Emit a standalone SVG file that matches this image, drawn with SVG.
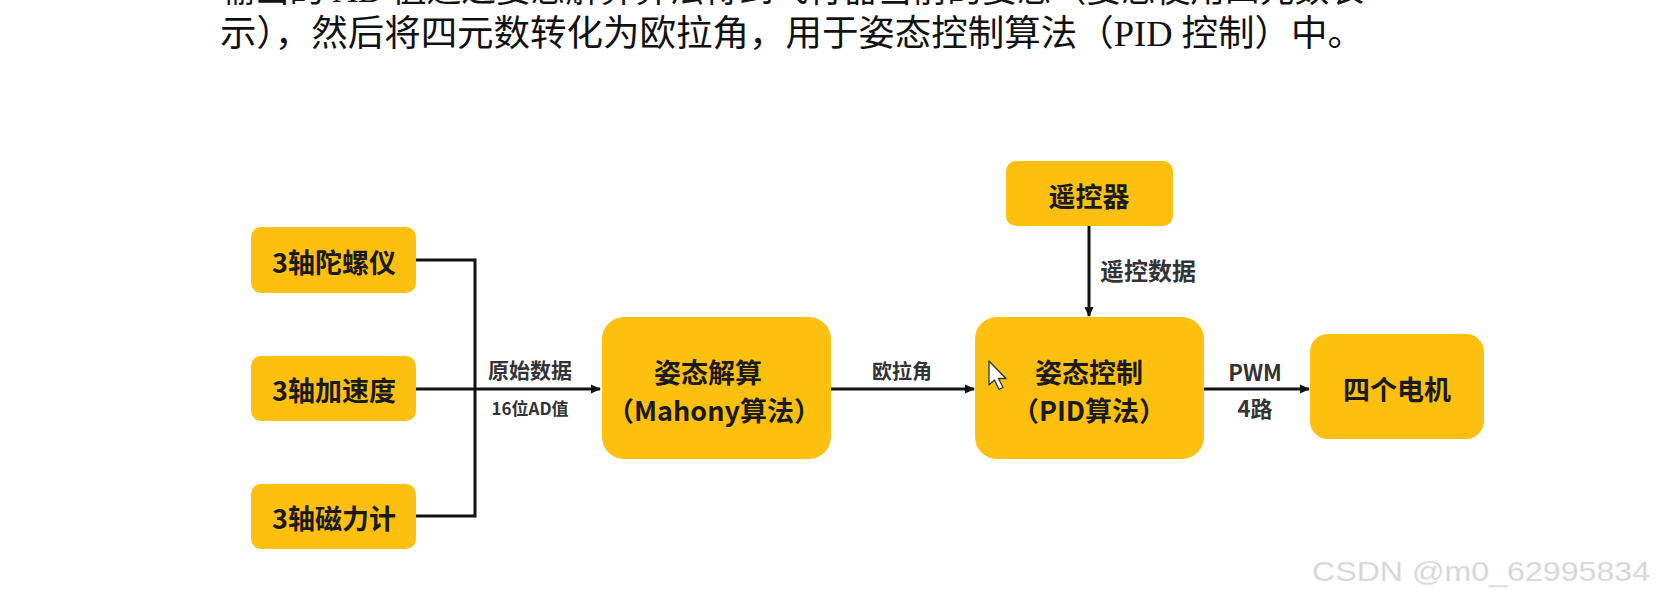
<svg xmlns="http://www.w3.org/2000/svg" width="1658" height="600" viewBox="0 0 1658 600">
  <defs>
    <marker id="arr" markerWidth="10" markerHeight="10" refX="9" refY="5" orient="auto" markerUnits="userSpaceOnUse">
      <path d="M0,0.5 L10,5 L0,9.5 Z" fill="#111"/>
    </marker>
    <style>
      .box { fill: #FEC00F; }
      .bt { font-family: "Noto Sans CJK SC", "Noto Sans", sans-serif; font-weight: bold; font-size: 27px; fill: #1a1a1a; text-anchor: middle; dominant-baseline: central; }
      .lb { font-family: "Noto Sans CJK SC", "Noto Sans", sans-serif; font-weight: bold; fill: #333; dominant-baseline: central; }
      .ln { stroke: #111; stroke-width: 3; fill: none; }
      .para { font-family: "Liberation Serif", "Noto Sans CJK SC", serif; font-size: 36px; fill: #111; }
      .wm { font-family: "Liberation Sans", Arial, sans-serif; font-size: 28px; fill: #d4d4d4; }
    </style>
  </defs>
  <rect width="1658" height="600" fill="#ffffff"/>

  <!-- paragraph text -->
  <text class="para" x="220" y="2" textLength="1144" lengthAdjust="spacingAndGlyphs">输出的 AD 值通过姿态解算算法得到飞行器当前的姿态（姿态使用四元数表</text>
  <text class="para" x="220" y="46" textLength="1144" lengthAdjust="spacingAndGlyphs">示），然后将四元数转化为欧拉角，用于姿态控制算法（PID 控制）中。</text>

  <!-- connectors -->
  <g id="connectors">
    <polyline class="ln" points="416,260 475,260 475,516 416,516"/>
    <line class="ln" x1="416" y1="389" x2="600" y2="389" marker-end="url(#arr)"/>
    <line class="ln" x1="831" y1="389" x2="974" y2="389" marker-end="url(#arr)"/>
    <line class="ln" x1="1089" y1="226" x2="1089" y2="316" marker-end="url(#arr)"/>
    <line class="ln" x1="1204" y1="389" x2="1309" y2="389" marker-end="url(#arr)"/>
    <text class="lb" x="530" y="369" font-size="21" text-anchor="middle" font-weight="500">原始数据</text>
    <text class="lb" x="530" y="407" font-size="17" text-anchor="middle">16位AD值</text>
    <text class="lb" x="902" y="370" font-size="20" text-anchor="middle" font-weight="500">欧拉角</text>
    <text class="lb" x="1100" y="269" font-size="24" font-weight="500">遥控数据</text>
    <text class="lb" x="1255" y="371" font-size="22" text-anchor="middle">PWM</text>
    <text class="lb" x="1255" y="407" font-size="22" text-anchor="middle">4路</text>
  </g>

  <g id="gyro">
    <rect class="box" x="251" y="227" width="165" height="66" rx="10"/>
    <text class="bt" x="334" y="261">3轴陀螺仪</text>
  </g>
  <g id="accel">
    <rect class="box" x="251" y="356" width="165" height="65" rx="10"/>
    <text class="bt" x="334" y="389">3轴加速度</text>
  </g>
  <g id="mag">
    <rect class="box" x="251" y="484" width="165" height="65" rx="10"/>
    <text class="bt" x="334" y="517">3轴磁力计</text>
  </g>
  <g id="mahony">
    <rect class="box" x="602" y="317" width="229" height="142" rx="22"/>
    <text class="bt" x="708" y="371">姿态解算</text>
    <text class="bt" x="714" y="409">（Mahony算法）</text>
  </g>
  <g id="remote">
    <rect class="box" x="1006" y="161" width="167" height="65" rx="10"/>
    <text class="bt" x="1089" y="195">遥控器</text>
  </g>
  <g id="pid">
    <rect class="box" x="975" y="317" width="229" height="142" rx="22"/>
    <text class="bt" x="1089" y="371">姿态控制</text>
    <text class="bt" x="1089" y="409">（PID算法）</text>
  </g>
  <g id="motors">
    <rect class="box" x="1310" y="334" width="174" height="105" rx="18"/>
    <text class="bt" x="1397" y="388">四个电机</text>
  </g>

  <!-- mouse cursor -->
  <path d="M989,361 L989,385 L994.5,380 L999,389.5 L1003,387.5 L998.5,378.5 L1006,378.5 Z" fill="#ffffff" stroke="#333" stroke-width="1.3" stroke-linejoin="round"/>

  <!-- watermark -->
  <text class="wm" x="1312" y="581" textLength="338" lengthAdjust="spacingAndGlyphs" stroke="#eeeeee" stroke-width="0.5">CSDN @m0_62995834</text>
</svg>
